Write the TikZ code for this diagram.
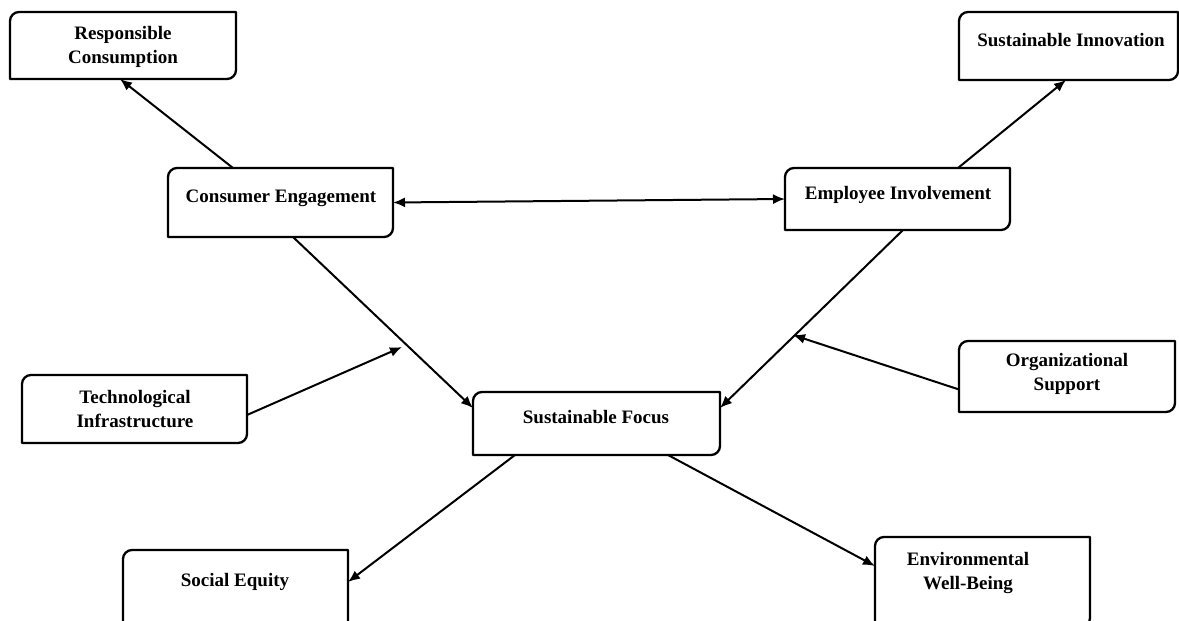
\documentclass[tikz,border=0pt]{standalone}
\usepackage{fontspec}
\setmainfont{Liberation Serif}
\usetikzlibrary{calc,arrows.meta}
\tikzset{
  box/.style={draw=none,inner sep=0pt,outer sep=0pt,minimum width=#1},
  lbl/.style={font=\fontsize{19}{24}\selectfont\bfseries,align=center,inner sep=0pt},
  conn/.style={line width=2pt,-{Latex[length=12pt,width=10pt]}},
  both/.style={line width=2pt,{Latex[length=12pt,width=10pt]}-{Latex[length=12pt,width=10pt]}},
  outline/.style={line width=2.3pt,line join=round}
}
\newcommand\diagbox[1]{%
  \draw[outline] ($(#1.north west)+(0,-9)$) arc[start angle=180,end angle=90,radius=9]
    -- (#1.north east) -- ($(#1.south east)+(0,9)$)
    arc[start angle=0,end angle=-90,radius=9] -- (#1.south west) -- cycle;}
\begin{document}
\begin{tikzpicture}[x=1pt,y=1pt]
\useasboundingbox (0,0) rectangle (1179,-621);
\clip (0,0) rectangle (1179,-621);
% boxes
\node[box=226,minimum height=67] (rc) at (123,-45.5) {};
\node[box=219,minimum height=68] (si) at (1068.5,-46) {};
\node[box=225,minimum height=69] (ce) at (280.5,-202.5) {};
\node[box=225,minimum height=62] (ei) at (897.5,-199) {};
\node[box=225,minimum height=68] (ti) at (134.5,-409) {};
\node[box=247,minimum height=63] (sf) at (596.5,-423.5) {};
\node[box=216,minimum height=71] (os) at (1067,-376.5) {};
\node[box=225,minimum height=90] (se) at (235.5,-595) {};
\node[box=215,minimum height=90] (ew) at (982.5,-582) {};
\foreach \n in {rc,si,ce,ei,ti,sf,os,se,ew}{\diagbox{\n}}
% labels
\node[lbl] (rc-t) at (123,-47) {Responsible\\Consumption};
\node[lbl] (si-t) at (1071,-40) {Sustainable Innovation};
\node[lbl] (ce-t) at (281,-198) {Consumer Engagement};
\node[lbl] (ei-t) at (898,-195) {Employee Involvement};
\node[lbl] (ti-t) at (135,-409) {Technological\\Infrastructure};
\node[lbl] (sf-t) at (596,-417) {Sustainable Focus};
\node[lbl] (os-t) at (1067,-374) {Organizational\\Support};
\node[lbl] (se-t) at (235,-582) {Social Equity};
\node[lbl] (ew-t) at (968,-573) {Environmental\\Well-Being};
% free ends
\coordinate (tip1) at (402,-347);
\coordinate (tip2) at (793,-335);
% connectors
\draw[conn] ([xshift=65pt]ce.north west) -- ([xshift=110pt]rc.south west);
\draw[both] (ce.east) -- (ei.west);
\draw[conn] ([xshift=173pt]ei.north west) -- ([xshift=107pt]si.south west);
\draw[conn] ([xshift=125pt]ce.south west) -- ([yshift=-16pt]sf.north west);
\draw[conn] ([xshift=118pt]ei.south west) -- ([yshift=-16pt]sf.north east);
\draw[conn] ([yshift=-6pt]ti.east) -- (tip1);
\draw[conn] ([yshift=-13pt]os.west) -- (tip2);
\draw[conn] ([xshift=42pt]sf.south west) -- ([yshift=-32pt]se.north east);
\draw[conn] ([xshift=195pt]sf.south west) -- ([yshift=-29pt]ew.north west);
\end{tikzpicture}
\end{document}
